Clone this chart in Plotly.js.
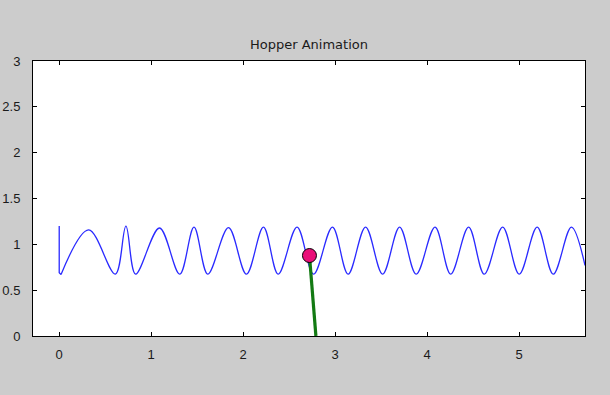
<!DOCTYPE html>
<html>
<head>
<meta charset="utf-8">
<script src="https://cdn.plot.ly/plotly-3.0.1.min.js"></script>
<style>
  html, body { margin: 0; padding: 0; background: #cccccc; }
  #chart { width: 610px; height: 395px; }
</style>
</head>
<body>
<div id="chart"></div>
<script>
// Initial drop of the body (vertical segment at t=0)
const dropX = [0, 0.0, 0.02];
const dropY = [1.2, 0.69, 0.672];

// Body height path: troughs and peaks
const bodyX = [0.02, 0.32, 0.61, 0.725, 0.83, 1.09, 1.31, 1.465, 1.615, 1.84,
  2.035, 2.22, 2.38, 2.585, 2.765, 2.97, 3.14, 3.33, 3.515, 3.70,
  3.88, 4.085, 4.255, 4.45, 4.62, 4.82, 5.00, 5.195, 5.37, 5.567,
  5.715];
const bodyY = [0.672, 1.158, 0.675, 1.198, 0.675, 1.178, 0.675, 1.188, 0.675, 1.182,
  0.675, 1.188, 0.675, 1.188, 0.675, 1.188, 0.675, 1.188, 0.675, 1.188,
  0.675, 1.188, 0.675, 1.188, 0.675, 1.188, 0.675, 1.188, 0.675, 1.188,
  0.77];

// Leg (hip to foot) and body mass
const legX = [2.72, 2.79];
const legY = [0.878, 0];
const massX = [2.72];
const massY = [0.878];

const xTicks = [0, 1, 2, 3, 4, 5];
const yTicks = [0, 0.5, 1, 1.5, 2, 2.5, 3];
const yTickText = ['0', '0.5', '1', '1.5', '2', '2.5', '3'];

const traces = [
  { x: dropX, y: dropY, mode: 'lines', line: { color: '#2a2aff', width: 1.3 }, hoverinfo: 'skip' },
  { x: bodyX, y: bodyY, mode: 'lines', line: { color: '#2a2aff', width: 1.3, shape: 'spline', smoothing: 1 }, hoverinfo: 'skip' },
  { x: legX, y: legY, mode: 'lines', line: { color: '#137a13', width: 3.2 }, hoverinfo: 'skip' },
  { x: massX, y: massY, mode: 'markers', marker: { size: 14, color: '#ea0f78', line: { color: '#000000', width: 1 } }, hoverinfo: 'skip' }
];

const axisCommon = {
  showline: true, linecolor: '#000000', linewidth: 1,
  mirror: 'allticks', ticks: 'inside', ticklen: 4, tickwidth: 1, tickcolor: '#000000',
  showgrid: false, zeroline: false,
  tickfont: { family: 'Liberation Sans, Arial, sans-serif', size: 13, color: '#1a1a1a' }
};

const layout = {
  width: 610, height: 395,
  paper_bgcolor: '#cccccc', plot_bgcolor: '#ffffff',
  margin: { l: 33, r: 25, t: 61, b: 59 },
  showlegend: false,
  title: {
    text: 'Hopper Animation',
    font: { family: 'DejaVu Sans, sans-serif', size: 13, color: '#1a1a1a' },
    x: 0.5065, xanchor: 'center', y: 1 - 44 / 395, yanchor: 'middle', yref: 'container'
  },
  xaxis: Object.assign({}, axisCommon, { range: [-0.285, 5.715], tickvals: xTicks, ticktext: xTicks.map(String), ticklabelstandoff: 6 }),
  yaxis: Object.assign({}, axisCommon, { range: [0, 3], tickvals: yTicks, ticktext: yTickText, ticklabelstandoff: 9 })
};

Plotly.newPlot('chart', traces, layout, { displayModeBar: false, staticPlot: true });
</script>
</body>
</html>
